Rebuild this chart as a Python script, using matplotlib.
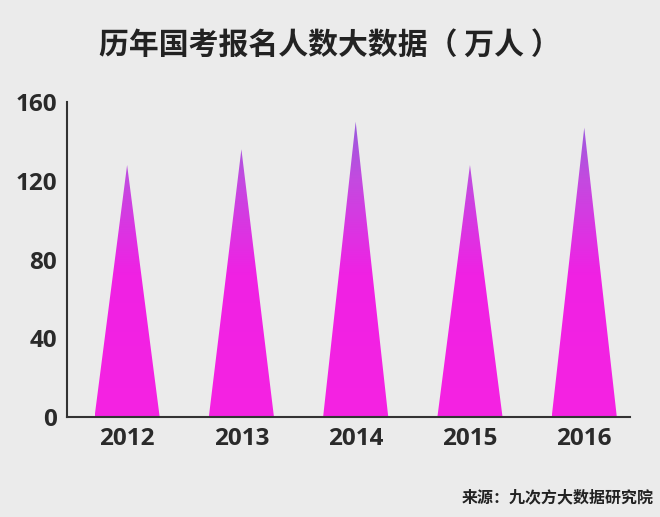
import numpy as np
import matplotlib
matplotlib.use('Agg')
import matplotlib.pyplot as plt
from matplotlib.colors import LinearSegmentedColormap
from matplotlib.patches import Polygon

plt.rcParams['font.family'] = ['Noto Sans CJK SC', 'DejaVu Sans']

# 数据
anos = ['2012', '2013', '2014', '2015', '2016']
inscritos = [128, 136, 150, 128, 147]
y_ticks = [0, 40, 80, 120, 160]

fundo = '#ebebeb'
fig = plt.figure(figsize=(6.6, 5.17), dpi=100, facecolor=fundo)
ax = fig.add_axes([0.1015, 0.1934, 0.853, 0.6093])
ax.set_facecolor(fundo)

x = np.arange(len(anos))
meia_base = 0.285
ax.set_xlim(-0.526, 4.4)
ax.set_ylim(0, 160)

# gradiente magenta -> roxo
cmap = LinearSegmentedColormap.from_list(
    'tri', [(0, '#f523e2'), (0.45, '#f021e4'), (0.75, '#c44ae0'), (1, '#8a62dc')])
grad = np.linspace(0, 1, 256).reshape(-1, 1)

for xi, v in zip(x, inscritos):
    tri = Polygon([(xi - meia_base, 0), (xi + meia_base, 0), (xi, v)],
                  closed=True, facecolor='none', edgecolor='none')
    ax.add_patch(tri)
    im = ax.imshow(grad, cmap=cmap, origin='lower', aspect='auto',
                   extent=(xi - meia_base, xi + meia_base, 0, 160), zorder=2)
    im.set_clip_path(tri)

ax.set_xticks(x)
ax.set_xticklabels(anos)
ax.set_yticks(y_ticks)
ax.tick_params(length=0, pad=7, labelsize=17.5, labelcolor='#2a2a2a')
for lab in ax.get_xticklabels() + ax.get_yticklabels():
    lab.set_fontweight('bold')
    lab.set_family(['Open Sans', 'DejaVu Sans'])

for s in ['top', 'right']:
    ax.spines[s].set_visible(False)
for s in ['left', 'bottom']:
    ax.spines[s].set_color('#333333')
    ax.spines[s].set_linewidth(1.5)

fig.text(0.5, 0.913, '历年国考报名人数大数据（ 万人 ）', ha='center', va='center',
         fontsize=21.5, fontweight='bold', color='#222222')
fig.text(0.99, 0.038, '来源：九次方大数据研究院', ha='right', va='center',
         fontsize=11.5, fontweight='bold', color='#222222')

fig.savefig('out.png', dpi=100, facecolor=fundo)
